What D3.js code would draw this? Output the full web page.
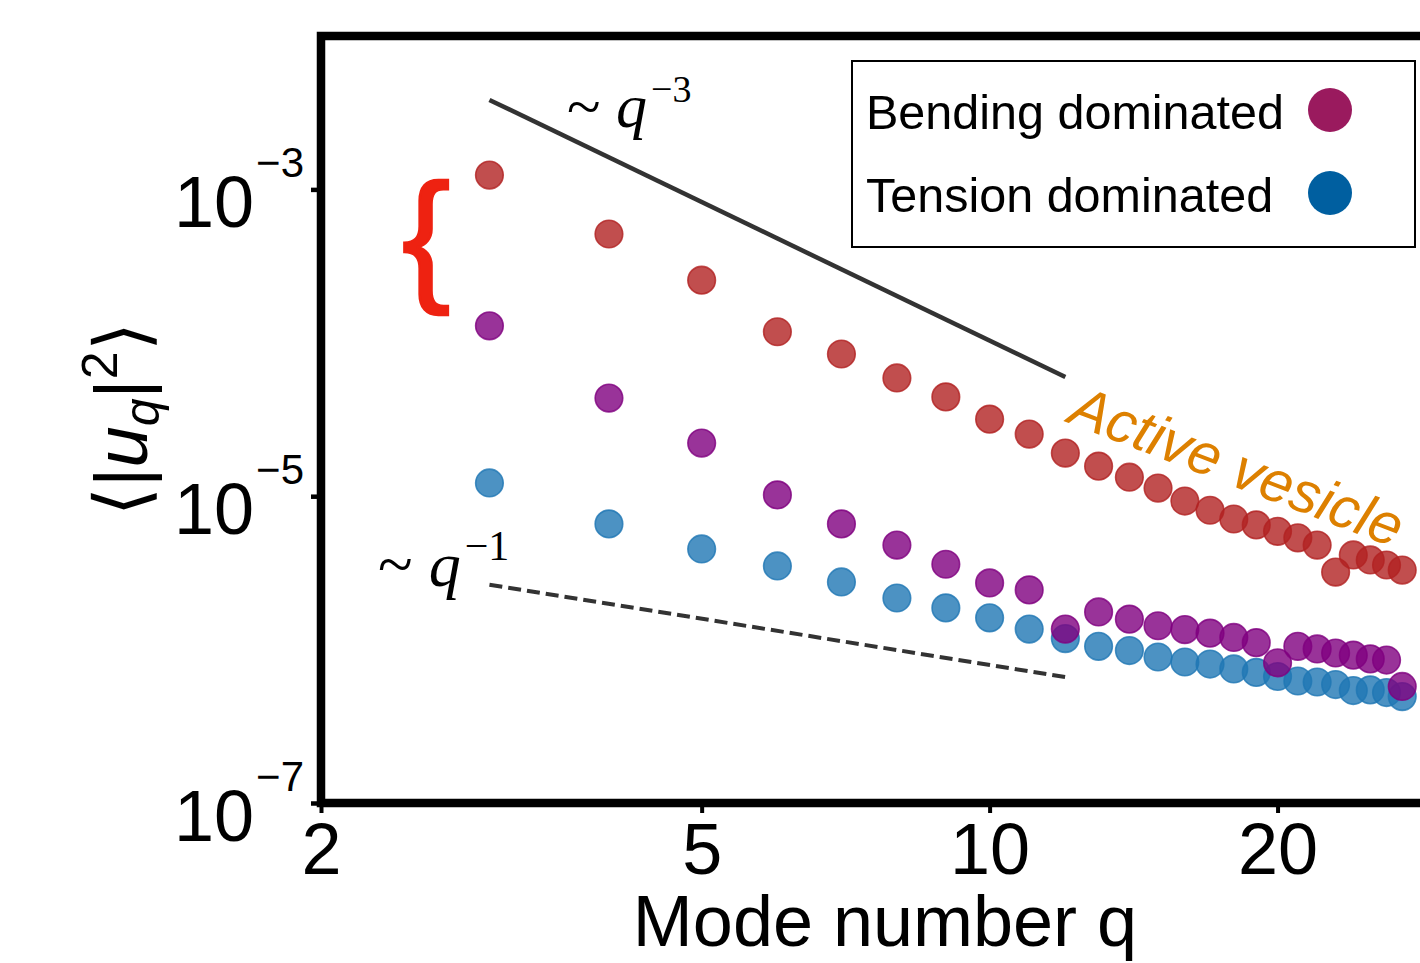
<!DOCTYPE html>
<html>
<head>
<meta charset="utf-8">
<script src="https://cdn.jsdelivr.net/npm/d3@7"></script>
<style>
  html, body { margin: 0; padding: 0; background: #fff; }
  svg { display: block; }
</style>
</head>
<body>
<div id="chart"></div>
<script>
// mode numbers q
var modes = [3, 4, 5, 6, 7, 8, 9, 10, 11, 12, 13, 14, 15, 16, 17, 18, 19, 20, 21, 22, 23, 24, 25, 26, 27];
// <|u_q|^2> for the active vesicle
var activeVals = [1.24e-3, 5.12e-4, 2.56e-4, 1.18e-4, 8.45e-5, 5.9e-5, 4.44e-5, 3.18e-5, 2.54e-5, 1.91e-5,
  1.57e-5, 1.33e-5, 1.13e-5, 9.3e-6, 8.1e-6, 7.1e-6, 6.5e-6, 5.9e-6, 5.35e-6, 4.8e-6,
  3.2e-6, 4.14e-6, 3.84e-6, 3.56e-6, 3.3e-6];
var bendingVals = [1.29e-4, 4.36e-5, 2.22e-5, 1.02e-5, 6.6e-6, 4.8e-6, 3.6e-6, 2.72e-6, 2.45e-6, 1.36e-6,
  1.76e-6, 1.58e-6, 1.43e-6, 1.35e-6, 1.28e-6, 1.2e-6, 1.11e-6, 8.2e-7, 1.05e-6, 1.01e-6,
  9.5e-7, 9.2e-7, 8.7e-7, 8.55e-7, 5.75e-7];
var tensionVals = [1.22e-5, 6.6e-6, 4.53e-6, 3.51e-6, 2.76e-6, 2.17e-6, 1.87e-6, 1.61e-6, 1.36e-6, 1.18e-6,
  1.05e-6, 9.86e-7, 8.95e-7, 8.3e-7, 8.05e-7, 7.48e-7, 7.1e-7, 6.68e-7, 6.24e-7, 6.15e-7,
  5.92e-7, 5.41e-7, 5.46e-7, 5.25e-7, 4.94e-7];
// guide lines ~q^-3 and ~q^-1
var guideQ = [3, 12];
var steepVals = [3.83e-3, 5.98e-5];
var shallowVals = [2.65e-6, 6.62e-7];
// ticks
var xTicks = [2, 5, 10, 20];
var yTicks = [1e-7, 1e-5, 1e-3];
var yTickExp = ["\u22127", "\u22125", "\u22123"];
var legendNames = ["Bending dominated", "Tension dominated"];
var legendColors = ["#9a1a5e", "#005fa0"];

var W = 1420, H = 963;
var plotLeft = 321, plotTop = 36, plotBottom = 803, plotRight = 1446;

var svg = d3.select("#chart").append("svg")
  .attr("width", W).attr("height", H)
  .attr("font-family", "Liberation Sans, Arial, sans-serif");
svg.append("rect").attr("width", W).attr("height", H).attr("fill", "#fff");

var x = d3.scaleLog().domain([2, 30]).range([plotLeft, plotRight]);
var y = d3.scaleLog().domain([1e-7, 1e-2]).range([plotBottom, plotTop]);

// guide lines
var line = d3.line()
  .x(function(d) { return x(d[0]); })
  .y(function(d) { return y(d[1]); });

svg.append("path")
  .datum(d3.zip(guideQ, steepVals))
  .attr("d", line)
  .attr("fill", "none")
  .attr("stroke", "#333")
  .attr("stroke-width", 4.5);

svg.append("path")
  .datum(d3.zip(guideQ, shallowVals))
  .attr("d", line)
  .attr("fill", "none")
  .attr("stroke", "#333")
  .attr("stroke-width", 4)
  .attr("stroke-dasharray", "13,6");

// scatter series: blue first so purple sits on top
function drawSeries(vals, color) {
  svg.append("g").selectAll("circle")
    .data(d3.zip(modes, vals))
    .enter().append("circle")
    .attr("cx", function(d) { return x(d[0]); })
    .attr("cy", function(d) { return y(d[1]); })
    .attr("r", 13.8)
    .attr("fill", color)
    .attr("fill-opacity", 0.8)
    .attr("stroke", color)
    .attr("stroke-opacity", 0.8)
    .attr("stroke-width", 1.6);
}
drawSeries(activeVals, "#b22222");
drawSeries(tensionVals, "#1f77b4");
drawSeries(bendingVals, "#800080");

// frame
svg.append("path")
  .attr("d", "M" + plotRight + "," + plotTop + "H" + plotLeft + "V" + plotBottom + "H" + plotRight)
  .attr("fill", "none")
  .attr("stroke", "#000")
  .attr("stroke-width", 8.5)
  .attr("stroke-linecap", "square");

// x axis ticks
var xAxis = svg.append("g")
  .attr("transform", "translate(0," + plotBottom + ")")
  .call(d3.axisBottom(x).tickValues(xTicks).tickFormat(d3.format("d")).tickSize(10).tickPadding(12));
xAxis.select(".domain").remove();
xAxis.selectAll(".tick line").attr("stroke-width", 4);
xAxis.selectAll(".tick text")
  .attr("font-size", 72)
  .attr("font-family", "Liberation Sans, Arial, sans-serif")
  .attr("fill", "#000")
  .attr("dy", null)
  .attr("y", 71);

// y axis ticks
var yAxis = svg.append("g")
  .attr("transform", "translate(" + plotLeft + ",0)")
  .call(d3.axisLeft(y).tickValues(yTicks).tickFormat("").tickSize(10));
yAxis.select(".domain").remove();
yAxis.selectAll(".tick line").attr("stroke-width", 4.5);

var yLab = svg.append("g").selectAll("text")
  .data(yTicks)
  .enter().append("text")
  .attr("x", 304)
  .attr("y", function(d) { return y(d) + 38; })
  .attr("text-anchor", "end")
  .attr("font-size", 72)
  .attr("fill", "#000");
yLab.append("tspan").text("10");
yLab.append("tspan")
  .attr("dx", 2)
  .attr("dy", -50)
  .attr("font-size", 42)
  .text(function(d, i) { return yTickExp[i]; });

// axis titles
svg.append("text")
  .attr("x", 885).attr("y", 946)
  .attr("text-anchor", "middle")
  .attr("font-size", 72)
  .text("Mode number q");

var yt = svg.append("text")
  .attr("transform", "translate(147,419) rotate(-90)")
  .attr("text-anchor", "middle")
  .attr("font-size", 74);
yt.append("tspan").text("\u27E8|");
yt.append("tspan").attr("font-style", "italic").text("u");
yt.append("tspan").attr("font-style", "italic").attr("font-size", 50).attr("dy", 12).text("q");
yt.append("tspan").attr("dy", -12).text("|");
yt.append("tspan").attr("font-size", 50).attr("dy", -30).text("2");
yt.append("tspan").attr("dy", 30).text("\u27E9");

// annotations
function powerLabel(px, py, size, supSize, exp) {
  var t = svg.append("text")
    .attr("x", px).attr("y", py)
    .attr("font-family", "Liberation Serif, Times New Roman, serif")
    .attr("font-size", size)
    .attr("fill", "#000");
  t.append("tspan").text("~ ");
  t.append("tspan").attr("font-style", "italic").text("q");
  t.append("tspan").attr("font-size", supSize).attr("dx", 4).attr("dy", -size * 0.4).text(exp);
}
powerLabel(567, 127, 62, 38, "\u22123");
powerLabel(378, 586, 64, 42, "\u22121");

svg.append("text")
  .attr("x", 402).attr("y", 285)
  .attr("font-size", 145)
  .attr("fill", "#ee2211")
  .attr("stroke", "#ee2211")
  .attr("stroke-width", 2.5)
  .text("{");

svg.append("text")
  .attr("transform", "translate(1066,422) rotate(21)")
  .attr("font-size", 58)
  .attr("font-style", "italic")
  .attr("fill", "#dd8000")
  .text("Active vesicle");

// legend
svg.append("rect")
  .attr("x", 852).attr("y", 61)
  .attr("width", 563).attr("height", 186)
  .attr("fill", "#fff")
  .attr("stroke", "#000")
  .attr("stroke-width", 2);

var leg = svg.append("g").selectAll("g")
  .data(legendNames)
  .enter().append("g")
  .attr("transform", function(d, i) { return "translate(0," + (i * 83) + ")"; });
leg.append("text")
  .attr("x", 866).attr("y", 129)
  .attr("font-size", 48.5)
  .attr("fill", "#000")
  .text(function(d) { return d; });
leg.append("circle")
  .attr("cx", 1330).attr("cy", 110)
  .attr("r", 22)
  .attr("fill", function(d, i) { return legendColors[i]; });
</script>
</body>
</html>
